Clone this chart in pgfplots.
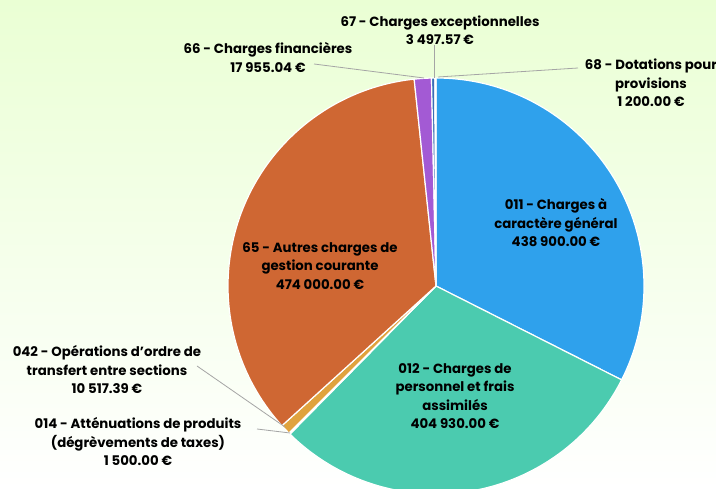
\documentclass[border=0pt]{standalone}
\usepackage{pgfplots}
\pgfplotsset{compat=1.18}
\usepackage{fontspec}
\setmainfont{Poppins}
\definecolor{bgtop}{RGB}{234,255,212}
\definecolor{c011}{RGB}{47,161,236}
\definecolor{c012}{RGB}{75,203,175}
\definecolor{c014}{RGB}{160,160,160}
\definecolor{c042}{RGB}{224,163,62}
\definecolor{c65}{RGB}{207,103,51}
\definecolor{c66}{RGB}{163,90,212}
\definecolor{c67}{RGB}{59,110,181}
\definecolor{c68}{RGB}{40,120,200}
\definecolor{lead}{RGB}{165,165,165}
\begin{document}
\begin{tikzpicture}
\useasboundingbox (0,0) rectangle (716pt,489pt);
\begin{axis}[x=1pt,y=1pt,xmin=0,xmax=716,ymin=0,ymax=489,hide axis,scale only axis,clip=false,
  at={(0,0)},anchor=south west]
\pgfplotsextra{
  \shade[top color=bgtop,bottom color=white] (axis cs:0,0) rectangle (axis cs:716,489);
  \foreach \v/\c [remember=\e as \s (initially 90)] in
    {438900/c011,404930/c012,1500/c014,10517.39/c042,474000/c65,17955.04/c66,3497.57/c67,1200/c68}{
    \edef\e{\fpeval{\s-\v/1352500*360}}
    \filldraw[fill=\c,draw=white,line width=1.2pt,line join=round]
      (axis cs:436,203) -- ++(\s:208pt) arc[start angle=\s,end angle=\e,radius=208pt] -- cycle;
  }
  \draw[lead,line width=0.8pt] (axis cs:314,425) -- (axis cs:424,411);
  \draw[lead,line width=0.8pt] (axis cs:434,444) -- (axis cs:434,411);
  \draw[lead,line width=0.8pt] (axis cs:578,421) -- (axis cs:438,412);
  \draw[lead,line width=0.8pt] (axis cs:197,123) -- (axis cs:285,62);
  \draw[lead,line width=0.8pt] (axis cs:257,60) -- (axis cs:290,56);
}
\tikzset{lbl/.style={align=center,font=\fontsize{13.3}{18.5}\selectfont\bfseries,text=black,inner sep=0pt}}
\node[lbl] at (axis cs:440,459) {67 - Charges exceptionnelles\\3 497.57 €};
\node[lbl] at (axis cs:268,431.5) {66 - Charges financières\\17 955.04 €};
\node[lbl] at (axis cs:651,406) {68 - Dotations pour\\provisions\\1 200.00 €};
\node[lbl] at (axis cs:556,266) {011 - Charges à\\caractère général\\438 900.00 €};
\node[lbl] at (axis cs:320,223) {65 - Autres charges de\\gestion courante\\474 000.00 €};
\node[lbl] at (axis cs:455,93) {012 - Charges de\\personnel et frais\\assimilés\\404 930.00 €};
\node[lbl] at (axis cs:107,119) {042 - Opérations d{\char"27}ordre de\\transfert entre sections\\10 517.39 €};
\node[lbl] at (axis cs:138,47) {014 - Atténuations de produits\\(dégrèvements de taxes)\\1 500.00 €};
\end{axis}
\end{tikzpicture}
\end{document}
